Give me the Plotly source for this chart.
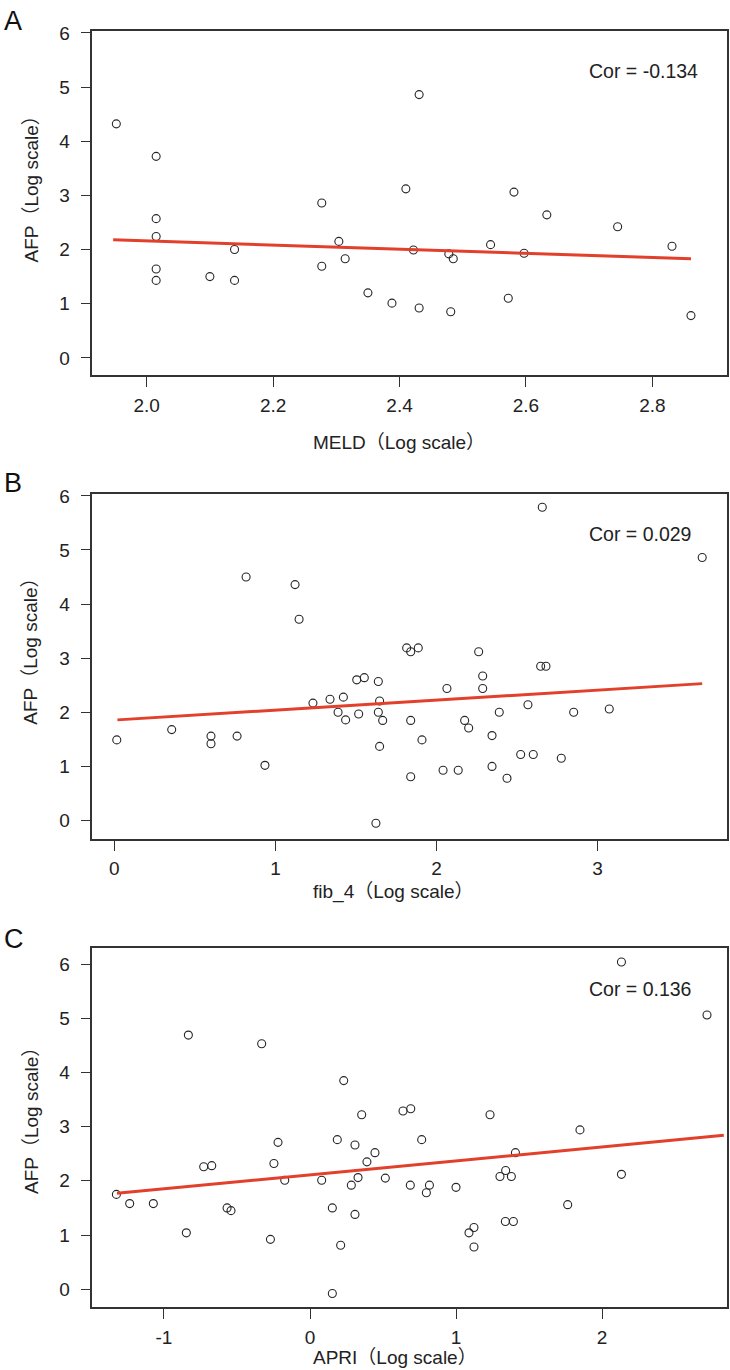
import plotly.graph_objects as go

W, H = 730, 1370

# ---------------- data ----------------
meld_x = [1.952, 2.015, 2.015, 2.015, 2.015, 2.015, 2.100, 2.139, 2.139, 2.277,
          2.277, 2.304, 2.314, 2.350, 2.431, 2.410, 2.422, 2.388, 2.431, 2.478,
          2.485, 2.481, 2.544, 2.581, 2.572, 2.597, 2.633, 2.745, 2.831, 2.861]
meld_afp = [4.32, 3.72, 2.57, 2.24, 1.64, 1.43, 1.50, 2.00, 1.43, 2.86,
            1.69, 2.15, 1.83, 1.20, 4.86, 3.12, 1.99, 1.01, 0.92, 1.92,
            1.83, 0.85, 2.09, 3.06, 1.10, 1.93, 2.64, 2.42, 2.06, 0.78]
meld_fit_x = [1.947, 2.861]
meld_fit_y = [2.18, 1.83]

fib4_x = [0.015, 0.356, 0.600, 0.600, 0.762, 0.818, 0.935, 1.122, 1.147, 1.233,
          1.339, 1.422, 1.389, 1.436, 1.505, 1.552, 1.517, 1.639, 1.647, 1.639,
          1.666, 1.647, 1.624, 1.815, 1.840, 1.887, 1.840, 1.910, 1.840, 2.065,
          2.041, 2.135, 2.175, 2.200, 2.262, 2.287, 2.287, 2.390, 2.345, 2.345,
          2.438, 2.523, 2.601, 2.568, 2.657, 2.647, 2.680, 2.775, 2.852, 3.073,
          3.650]
fib4_afp = [1.49, 1.68, 1.56, 1.42, 1.56, 4.50, 1.02, 4.36, 3.72, 2.17,
            2.24, 2.28, 2.00, 1.86, 2.60, 2.64, 1.97, 2.57, 2.21, 2.00,
            1.85, 1.37, -0.05, 3.19, 3.12, 3.19, 1.85, 1.49, 0.81, 2.44,
            0.93, 0.93, 1.85, 1.71, 3.12, 2.67, 2.44, 2.00, 1.57, 1.00,
            0.78, 1.22, 1.22, 2.14, 5.79, 2.85, 2.85, 1.15, 2.00, 2.06,
            4.86]
fib4_fit_x = [0.019, 3.650]
fib4_fit_y = [1.86, 2.53]

apri_x = [-1.326, -1.235, -1.073, -0.833, -0.847, -0.728, -0.673, -0.568, -0.541, -0.331,
          -0.271, -0.247, -0.219, -0.173, 0.080, 0.153, 0.153, 0.187, 0.210, 0.231,
          0.283, 0.308, 0.329, 0.308, 0.354, 0.637, 0.690, 1.233, 0.445, 0.390,
          0.765, 0.516, 0.687, 0.818, 0.797, 1.000, 1.123, 1.089, 1.123, 2.133,
          2.719, 1.849, 1.407, 1.340, 1.301, 1.379, 2.133, 1.765, 1.338, 1.393]
apri_afp = [1.75, 1.58, 1.58, 4.69, 1.04, 2.26, 2.28, 1.50, 1.45, 4.53,
            0.92, 2.32, 2.71, 2.01, 2.01, 1.50, -0.08, 2.76, 0.81, 3.85,
            1.92, 2.66, 2.06, 1.38, 3.22, 3.29, 3.33, 3.22, 2.52, 2.35,
            2.76, 2.05, 1.92, 1.92, 1.78, 1.88, 1.14, 1.04, 0.78, 6.04,
            5.06, 2.94, 2.52, 2.19, 2.08, 2.08, 2.12, 1.56, 1.25, 1.25]
apri_fit_x = [-1.322, 2.834]
apri_fit_y = [1.77, 2.84]

panel_letters = ["A", "B", "C"]
x_titles = ["MELD（Log scale）", "fib_4（Log scale）", "APRI（Log scale）"]
y_title = "AFP（Log scale）"
cor_labels = ["Cor = -0.134", "Cor = 0.029", "Cor = 0.136"]

y_tickvals = [0, 1, 2, 3, 4, 5, 6]
y_ticktext = ["0", "1", "2", "3", "4", "5", "6"]
a_tickvals = [2.0, 2.2, 2.4, 2.6, 2.8]
a_ticktext = ["2.0", "2.2", "2.4", "2.6", "2.8"]
b_tickvals = [0, 1, 2, 3]
b_ticktext = ["0", "1", "2", "3"]
c_tickvals = [-1, 0, 1, 2]
c_ticktext = ["-1", "0", "1", "2"]

# ---------------- layout geometry (pixels) ----------------
FONT = "Liberation Sans, Arial, Noto Sans CJK SC, sans-serif"
INK = "#262626"
RED = "#e2402b"

panels = [
    dict(x=meld_x, y=meld_afp, fx=meld_fit_x, fy=meld_fit_y,
         top=23.0, bottom=369.5, xr=[1.914, 2.918], yr=[-0.323, 6.037],
         tv=a_tickvals, tt=a_ticktext, letter_y=13, cor_y=63,
         xt_y=437, yt_bottom=258),
    dict(x=fib4_x, y=fib4_afp, fx=fib4_fit_x, fy=fib4_fit_y,
         top=488.7, bottom=835.7, xr=[-0.137, 3.804], yr=[-0.338, 6.037],
         tv=b_tickvals, tt=b_ticktext, letter_y=478, cor_y=529,
         xt_y=889, yt_bottom=723),
    dict(x=apri_x, y=apri_afp, fx=apri_fit_x, fy=apri_fit_y,
         top=945.7, bottom=1306.7, xr=[-1.491, 2.856], yr=[-0.330, 6.294],
         tv=c_tickvals, tt=c_ticktext, letter_y=936, cor_y=987,
         xt_y=1357, yt_bottom=1195),
]
LEFT, RIGHT = 92.3, 727.0

fig = go.Figure()
annotations = []
for i, p in enumerate(panels):
    n = "" if i == 0 else str(i + 1)
    xa, ya = "x" + n, "y" + n
    fig.add_trace(go.Scatter(
        x=p["x"], y=p["y"], mode="markers", xaxis=xa, yaxis=ya,
        marker=dict(symbol="circle-open", size=8, color=INK,
                    line=dict(width=1.1, color=INK)),
        showlegend=False, hoverinfo="x+y"))
    fig.add_trace(go.Scatter(
        x=p["fx"], y=p["fy"], mode="lines", xaxis=xa, yaxis=ya,
        line=dict(color=RED, width=3), showlegend=False))

    common = dict(showline=True, mirror=True, linecolor="#333333", linewidth=1.5,
                  ticks="outside", ticklen=10, tickwidth=1.2, tickcolor="#333333",
                  showgrid=False, zeroline=False,
                  tickfont=dict(family=FONT, size=19, color="#222222"))
    fig.update_layout(**{
        ("xaxis" + n): dict(domain=[LEFT / W, RIGHT / W], range=p["xr"],
                            anchor=ya, tickmode="array", tickvals=p["tv"],
                            ticktext=p["tt"], ticklabelstandoff=2, **common),
        ("yaxis" + n): dict(domain=[1 - p["bottom"] / H, 1 - p["top"] / H],
                            range=p["yr"], anchor=xa, tickmode="array",
                            tickvals=y_tickvals, ticktext=y_ticktext,
                            ticklabelstandoff=7, **common),
    })

    annotations.append(dict(text=panel_letters[i], xref="paper", yref="paper",
                            x=1.5 / W, y=1 - p["letter_y"] / H, xanchor="left",
                            yanchor="middle", showarrow=False,
                            font=dict(family=FONT, size=27, color="#111111")))
    annotations.append(dict(text=cor_labels[i], xref="paper", yref="paper",
                            x=587 / W, y=1 - p["cor_y"] / H, xanchor="left",
                            yanchor="middle", showarrow=False,
                            font=dict(family=FONT, size=19.5, color="#222222")))
    annotations.append(dict(text=x_titles[i], xref="paper", yref="paper",
                            x=311 / W, y=1 - p["xt_y"] / H, xanchor="left",
                            yanchor="middle", showarrow=False,
                            font=dict(family=FONT, size=19, color="#222222")))
    annotations.append(dict(text=y_title, xref="paper", yref="paper",
                            x=31 / W, y=1 - p["yt_bottom"] / H, xanchor="center",
                            yanchor="bottom", textangle=-90, showarrow=False,
                            font=dict(family=FONT, size=19, color="#222222")))

fig.update_layout(width=W, height=H, margin=dict(l=0, r=0, t=0, b=0),
                  paper_bgcolor="white", plot_bgcolor="white",
                  annotations=annotations)

fig.write_html("out.html", config={"displayModeBar": False},
               post_script="document.body.style.margin='0';"
                           "document.body.style.padding='0';")
